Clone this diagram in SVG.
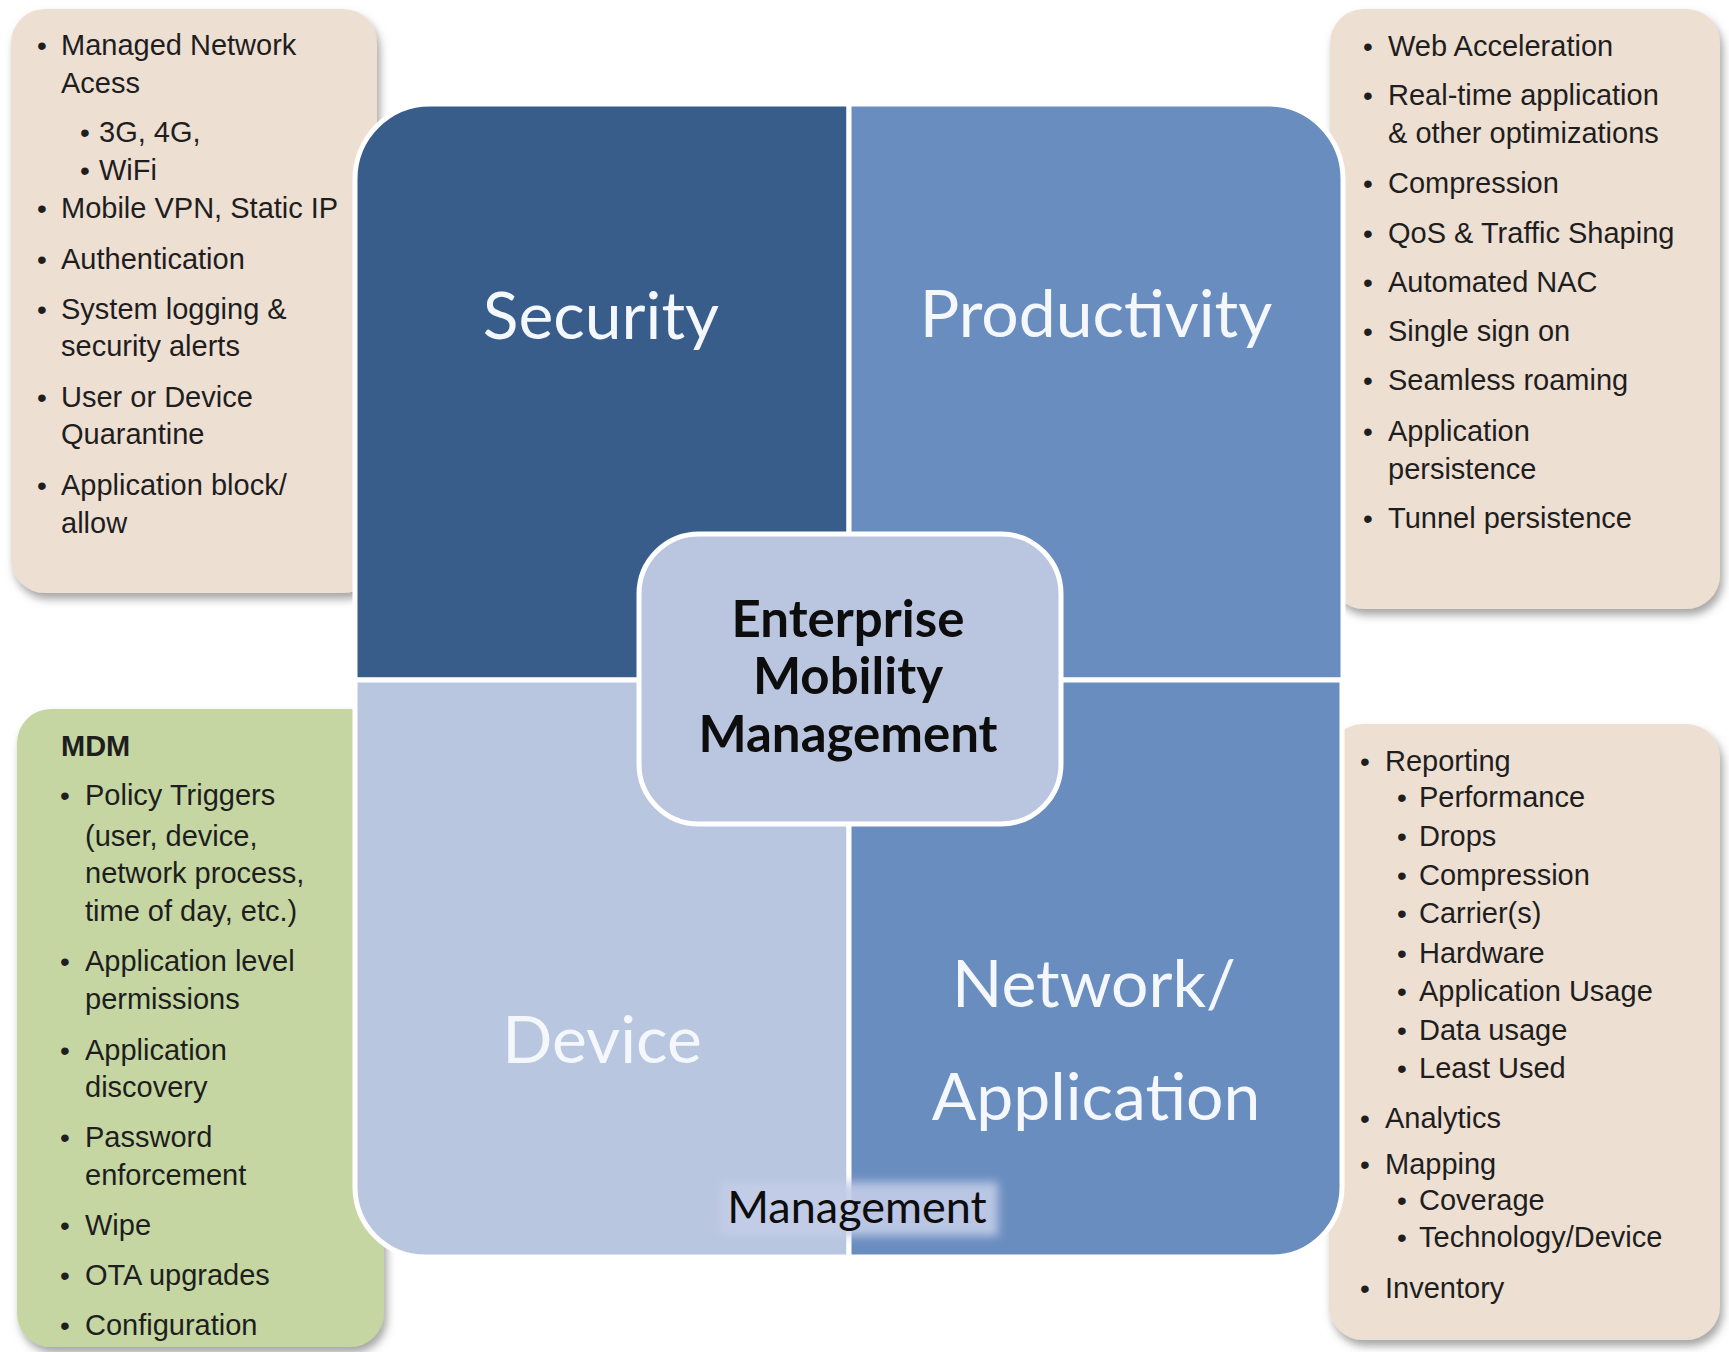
<svg xmlns="http://www.w3.org/2000/svg" width="1729" height="1352" viewBox="0 0 1729 1352">
<defs>
<filter id="sh" x="-10%" y="-10%" width="125%" height="125%">
<feDropShadow dx="3" dy="6" stdDeviation="4" flood-color="#6b6b6b" flood-opacity="0.6"/>
</filter>
<filter id="blur" x="-20%" y="-40%" width="140%" height="180%">
<feGaussianBlur stdDeviation="5"/>
</filter>
</defs>
<style>
.tan{fill:#eedfd3;filter:url(#sh)}
.grn{fill:#c5d6a2;filter:url(#sh)}
.li{font-family:"Liberation Sans",Arial,sans-serif;font-size:29px;fill:#1e1e1e}
.b{font-family:"Liberation Sans",Arial,sans-serif;font-size:28px;fill:#1e1e1e}
.q{stroke:#ffffff;stroke-width:5}
.ql{font-family:Lato,"Open Sans",sans-serif;font-size:66px;text-anchor:middle;fill:#f4f7fc}
.ct{font-family:Lato,"Open Sans",sans-serif;font-weight:bold;font-size:51px;text-anchor:middle;fill:#0d0d0d}
</style>

<g id="security-features">
<rect class="tan" x="11" y="9" width="366" height="584" rx="34"/>
<text class="b" x="37" y="55">•</text><text class="li" x="61" y="55">Managed Network</text>
<text class="li" x="61" y="93">Acess</text>
<text class="b" x="80" y="142">•</text><text class="li" x="99" y="142">3G, 4G,</text>
<text class="b" x="80" y="180">•</text><text class="li" x="99" y="180">WiFi</text>
<text class="b" x="37" y="218">•</text><text class="li" x="61" y="218">Mobile VPN, Static IP</text>
<text class="b" x="37" y="269">•</text><text class="li" x="61" y="269">Authentication</text>
<text class="b" x="37" y="319">•</text><text class="li" x="61" y="319">System logging &amp;</text>
<text class="li" x="61" y="356">security alerts</text>
<text class="b" x="37" y="407">•</text><text class="li" x="61" y="407">User or Device</text>
<text class="li" x="61" y="444">Quarantine</text>
<text class="b" x="37" y="495">•</text><text class="li" x="61" y="495">Application block/</text>
<text class="li" x="61" y="533">allow</text>
</g>

<g id="productivity-features">
<rect class="tan" x="1330" y="9" width="390" height="600" rx="34"/>
<text class="b" x="1363" y="56">•</text><text class="li" x="1388" y="56">Web Acceleration</text>
<text class="b" x="1363" y="105">•</text><text class="li" x="1388" y="105">Real-time application</text>
<text class="li" x="1388" y="143">&amp; other optimizations</text>
<text class="b" x="1363" y="193">•</text><text class="li" x="1388" y="193">Compression</text>
<text class="b" x="1363" y="243">•</text><text class="li" x="1388" y="243">QoS &amp; Traffic Shaping</text>
<text class="b" x="1363" y="292">•</text><text class="li" x="1388" y="292">Automated NAC</text>
<text class="b" x="1363" y="341">•</text><text class="li" x="1388" y="341">Single sign on</text>
<text class="b" x="1363" y="390">•</text><text class="li" x="1388" y="390">Seamless roaming</text>
<text class="b" x="1363" y="441">•</text><text class="li" x="1388" y="441">Application</text>
<text class="li" x="1388" y="479">persistence</text>
<text class="b" x="1363" y="528">•</text><text class="li" x="1388" y="528">Tunnel persistence</text>
</g>

<g id="device-features">
<rect class="grn" x="17" y="709" width="367" height="638" rx="34"/>
<text class="li" x="61" y="756" font-weight="bold">MDM</text>
<text class="b" x="60" y="805">•</text><text class="li" x="85" y="805">Policy Triggers</text>
<text class="li" x="85" y="846">(user, device,</text>
<text class="li" x="85" y="883">network process,</text>
<text class="li" x="85" y="921">time of day, etc.)</text>
<text class="b" x="60" y="971">•</text><text class="li" x="85" y="971">Application level</text>
<text class="li" x="85" y="1009">permissions</text>
<text class="b" x="60" y="1060">•</text><text class="li" x="85" y="1060">Application</text>
<text class="li" x="85" y="1097">discovery</text>
<text class="b" x="60" y="1147">•</text><text class="li" x="85" y="1147">Password</text>
<text class="li" x="85" y="1185">enforcement</text>
<text class="b" x="60" y="1235">•</text><text class="li" x="85" y="1235">Wipe</text>
<text class="b" x="60" y="1285">•</text><text class="li" x="85" y="1285">OTA upgrades</text>
<text class="b" x="60" y="1335">•</text><text class="li" x="85" y="1335">Configuration</text>
</g>

<g id="network-features">
<rect class="tan" x="1329" y="724" width="391" height="616" rx="34"/>
<text class="b" x="1360" y="771">•</text><text class="li" x="1385" y="771">Reporting</text>
<text class="b" x="1397" y="807">•</text><text class="li" x="1419" y="807">Performance</text>
<text class="b" x="1397" y="846">•</text><text class="li" x="1419" y="846">Drops</text>
<text class="b" x="1397" y="885">•</text><text class="li" x="1419" y="885">Compression</text>
<text class="b" x="1397" y="923">•</text><text class="li" x="1419" y="923">Carrier(s)</text>
<text class="b" x="1397" y="963">•</text><text class="li" x="1419" y="963">Hardware</text>
<text class="b" x="1397" y="1001">•</text><text class="li" x="1419" y="1001">Application Usage</text>
<text class="b" x="1397" y="1040">•</text><text class="li" x="1419" y="1040">Data usage</text>
<text class="b" x="1397" y="1078">•</text><text class="li" x="1419" y="1078">Least Used</text>
<text class="b" x="1360" y="1128">•</text><text class="li" x="1385" y="1128">Analytics</text>
<text class="b" x="1360" y="1174">•</text><text class="li" x="1385" y="1174">Mapping</text>
<text class="b" x="1397" y="1210">•</text><text class="li" x="1419" y="1210">Coverage</text>
<text class="b" x="1397" y="1247">•</text><text class="li" x="1419" y="1247">Technology/Device</text>
<text class="b" x="1360" y="1298">•</text><text class="li" x="1385" y="1298">Inventory</text>
</g>

<g id="security">
<path class="q" fill="#385d8a" d="M355,680 L355,179 A75,75 0 0 1 430,104 L849,104 L849,680 Z"/>
<text class="ql" x="601" y="339">Security</text>
</g>
<g id="productivity">
<path class="q" fill="#6a8dbf" d="M849,104 L1268,104 A75,75 0 0 1 1343,179 L1343,680 L849,680 Z"/>
<text class="ql" x="1096" y="337">Productivity</text>
</g>
<g id="device">
<path class="q" fill="#b9c6df" d="M355,680 L849,680 L849,1257 L425,1257 A70,70 0 0 1 355,1187 Z"/>
<text class="ql" x="602" y="1063" fill="#f8fafd">Device</text>
</g>
<g id="network-application">
<path class="q" fill="#6a8dbf" d="M849,680 L1342,680 L1342,1187 A70,70 0 0 1 1272,1257 L849,1257 Z"/>
<text class="ql" x="1094" y="1007" font-size="68">Network/</text>
<text class="ql" x="1096" y="1120" font-size="67">Application</text>
</g>

<g id="center">
<rect x="639" y="534" width="422" height="290" rx="60" fill="#bac6df" stroke="#ffffff" stroke-width="5"/>
<text class="ct" x="848" y="637">Enterprise</text>
<text class="ct" x="848" y="694">Mobility</text>
<text class="ct" x="848" y="752">Management</text>
</g>

<g id="management-label">
<rect x="720" y="1182" width="278" height="54" fill="#c3cde8" opacity="0.9" filter="url(#blur)"/>
<text x="857" y="1223" font-family="Lato,'Open Sans',sans-serif" font-size="45" text-anchor="middle" fill="#0d0d0d">Management</text>
</g>

<g id="connectors"/>
</svg>
